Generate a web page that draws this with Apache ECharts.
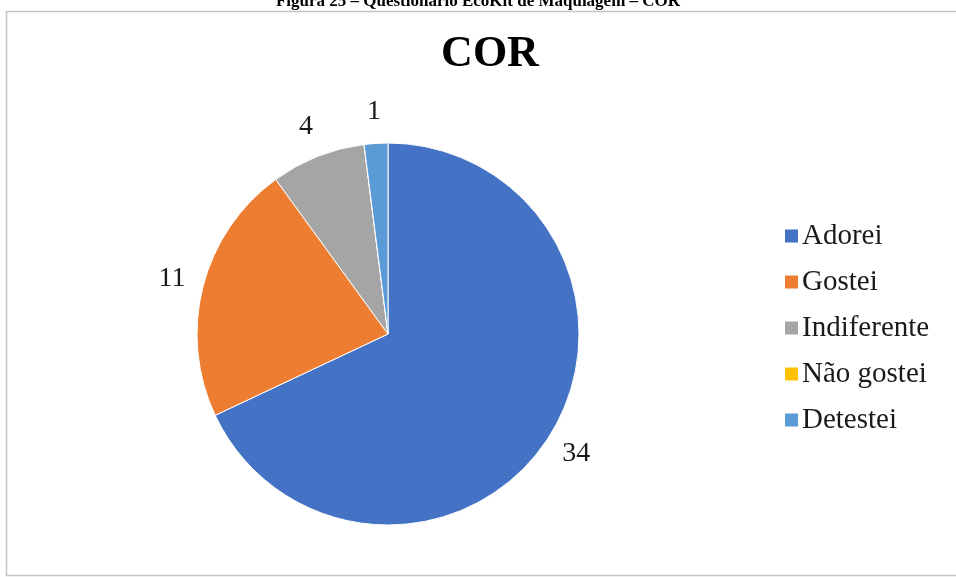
<!DOCTYPE html>
<html>
<head>
<meta charset="utf-8">
<script src="https://cdn.jsdelivr.net/npm/echarts@6/dist/echarts.min.js"></script>
<style>
  html, body { margin: 0; padding: 0; background: #ffffff; }
  #chart { width: 956px; height: 577px; }
</style>
</head>
<body>
<div id="chart"></div>
<script>
// Answers to the "COR" question
const categories = ['Adorei', 'Gostei', 'Indiferente', 'Não gostei', 'Detestei'];
const counts = [34, 11, 4, 0, 1];
const colors = ['#4472C4', '#ED7D31', '#A5A5A5', '#FFC000', '#5B9BD5'];

const caption = 'Figura 25 – Questionário EcoKit de Maquiagem – COR';
const chartTitle = 'COR';

const serif = '"Liberation Serif", "DejaVu Serif", serif';
const pieData = categories.map((name, i) => ({ name, value: counts[i] }));

const center = [388, 334];
const outerR = 191;

const chart = echarts.init(document.getElementById('chart'), null, { renderer: 'canvas' });
chart.setOption({
  backgroundColor: '#ffffff',
  animation: false,
  color: colors,
  graphic: [
    {
      type: 'rect',
      shape: { x: 6.5, y: 11.5, width: 1000, height: 564 },
      style: { fill: 'none', stroke: '#c4c4c4', lineWidth: 1.5 },
      silent: true
    },
    {
      type: 'text',
      left: 'center',
      top: -7,
      style: {
        text: caption,
        font: 'bold 17px ' + serif,
        fill: '#000000'
      },
      silent: true
    },
    {
      type: 'text',
      x: 490,
      y: 55,
      style: {
        text: chartTitle,
        font: 'bold 44px ' + serif,
        fill: '#000000',
        align: 'center',
        verticalAlign: 'middle'
      },
      silent: true
    }
  ],
  legend: {
    orient: 'vertical',
    left: 778,
    top: 216,
    itemWidth: 15,
    itemHeight: 15,
    itemGap: 16,
    icon: 'rect',
    data: categories,
    textStyle: {
      fontFamily: serif,
      fontSize: 29,
      lineHeight: 30,
      color: '#1a1a1a',
      padding: [0, 0, 0, -2]
    }
  },
  series: [
    {
      type: 'pie',
      center: center,
      radius: [0, outerR],
      startAngle: 90,
      clockwise: true,
      avoidLabelOverlap: false,
      data: pieData,
      itemStyle: { borderColor: '#ffffff', borderWidth: 1 },
      label: { show: false },
      labelLine: { show: false },
      emphasis: { disabled: true },
      silent: true
    },
    {
      // invisible ring that carries the value labels just outside the pie
      type: 'pie',
      center: center,
      radius: [outerR, outerR + 58],
      startAngle: 90,
      clockwise: true,
      avoidLabelOverlap: false,
      data: pieData,
      itemStyle: { color: 'rgba(0,0,0,0)' },
      label: {
        show: true,
        position: 'inside',
        fontFamily: serif,
        fontSize: 28,
        color: '#1a1a1a',
        formatter: p => (p.value > 0 ? String(p.value) : '')
      },
      labelLine: { show: false },
      emphasis: { disabled: true },
      silent: true
    }
  ]
});
</script>
</body>
</html>
